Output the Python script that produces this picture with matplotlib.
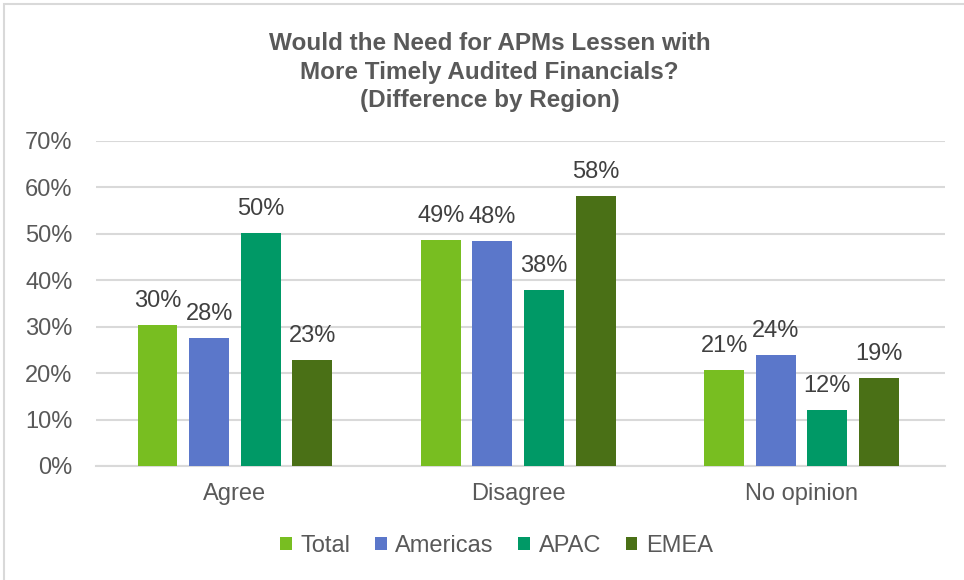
import numpy as np
import matplotlib
matplotlib.use("Agg")
import matplotlib.pyplot as plt
from matplotlib.patches import Rectangle

# 데이터
categories = ["Agree", "Disagree", "No opinion"]
series_names = ["Total", "Americas", "APAC", "EMEA"]
total = [30.4, 48.7, 20.7]
americas = [27.6, 48.5, 23.9]
apac = [50.2, 37.9, 12.1]
emea = [22.8, 58.2, 19.0]
yticks = [0, 10, 20, 30, 40, 50, 60, 70]
title = "Would the Need for APMs Lessen with\nMore Timely Audited Financials?\n(Difference by Region)"

colors = ["#78BE21", "#5B77CA", "#009966", "#4A7016"]
text_gray = "#595959"
label_gray = "#404040"
grid_gray = "#D9D9D9"

plt.rcParams["font.family"] = ["Liberation Sans", "DejaVu Sans"]

fig = plt.figure(figsize=(9.64, 5.8), dpi=100)
ax = fig.add_axes([0.0996, 0.1966, 0.8804, 0.5604])

x = np.arange(len(categories))
width = 0.141
step = 0.182
all_series = [total, americas, apac, emea]
for i, (name, vals) in enumerate(zip(series_names, all_series)):
    pos = x + (i - 1.5) * step
    bars = ax.bar(pos, vals, width=width, color=colors[i], label=name, zorder=3)
    for b, v in zip(bars, vals):
        ax.annotate(f"{v:.0f}%", (b.get_x() + b.get_width() / 2, v),
                    xytext=(0, 9.5), textcoords="offset points",
                    ha="center", va="bottom", fontsize=17, color=label_gray)

ax.set_ylim(0, 70)
ax.set_xlim(-0.49, 2.505)
ax.set_yticks(yticks)
ax.set_yticklabels([f"{t}%" for t in yticks], fontsize=17, color=text_gray)
ax.set_xticks(x)
ax.set_xticklabels(categories, fontsize=17, color=text_gray)
ax.tick_params(axis="y", length=0, pad=17)
ax.tick_params(axis="x", length=0, pad=12)
ax.yaxis.grid(True, color=grid_gray, linewidth=1.5, zorder=0)
for s in ["top", "right", "left"]:
    ax.spines[s].set_visible(False)
ax.spines["bottom"].set_color(grid_gray)
ax.spines["bottom"].set_linewidth(1.5)

fig.text(0.508, 0.944, title, ha="center", va="top", fontsize=17.5,
         fontweight="bold", color=text_gray, linespacing=1.3)

leg = fig.legend(loc="center", bbox_to_anchor=(0.515, 0.059), ncol=4, frameon=False,
                 fontsize=17, handlelength=0.5, handleheight=0.5,
                 handletextpad=0.35, columnspacing=1.05)
for t in leg.get_texts():
    t.set_color(text_gray)

# 차트 테두리
fig.patches.append(Rectangle((0.004, -0.05), 1.2, 1.043, transform=fig.transFigure,
                             fill=False, edgecolor=grid_gray, linewidth=1.5))

fig.savefig("out.png", dpi=100, facecolor="white")
